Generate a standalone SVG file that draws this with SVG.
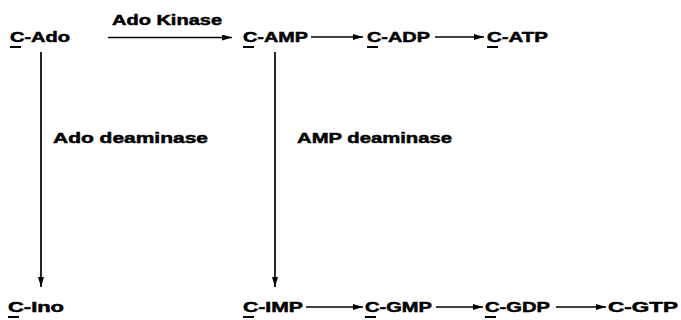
<svg xmlns="http://www.w3.org/2000/svg" width="681" height="320" viewBox="0 0 681 320">
<defs>
<style>
text{font-family:"Liberation Sans",Arial,sans-serif;font-weight:bold;font-size:15px;fill:#000;stroke:#000;stroke-width:0.5}
.u{fill:#000}
.c{stroke:#000;stroke-width:1.7;fill:none}
</style>
<marker id="ah" markerWidth="10" markerHeight="6" refX="10" refY="3" orient="auto" markerUnits="userSpaceOnUse">
<path d="M0,0 L10,3 L0,6 Z" fill="#000"/>
</marker>
</defs>
<rect width="681" height="320" fill="#fff"/>
<g id="connectors">
<line class="c" x1="108" y1="37.5" x2="232" y2="37.5" marker-end="url(#ah)"/>
<line class="c" x1="311" y1="37" x2="363" y2="37" marker-end="url(#ah)"/>
<line class="c" x1="435" y1="37" x2="484" y2="37" marker-end="url(#ah)"/>
<line class="c" x1="41" y1="52" x2="41" y2="287" marker-end="url(#ah)"/>
<line class="c" x1="275" y1="52" x2="275" y2="287" marker-end="url(#ah)"/>
<line class="c" x1="306" y1="307" x2="363" y2="307" marker-end="url(#ah)"/>
<line class="c" x1="436" y1="307" x2="483" y2="307" marker-end="url(#ah)"/>
<line class="c" x1="556" y1="307" x2="606" y2="307" marker-end="url(#ah)"/>
<text x="112" y="25" textLength="110" lengthAdjust="spacingAndGlyphs">Ado Kinase</text>
<text x="53" y="143" textLength="155" lengthAdjust="spacingAndGlyphs">Ado deaminase</text>
<text x="297" y="143" textLength="155" lengthAdjust="spacingAndGlyphs">AMP deaminase</text>
</g>
<g id="c-ado"><text x="10" y="42" textLength="60" lengthAdjust="spacingAndGlyphs">C-Ado</text><rect class="u" x="10" y="46" width="11" height="2"/></g>
<g id="c-amp"><text x="243" y="42" textLength="65" lengthAdjust="spacingAndGlyphs">C-AMP</text><rect class="u" x="243" y="46" width="11" height="2"/></g>
<g id="c-adp"><text x="367" y="42" textLength="63" lengthAdjust="spacingAndGlyphs">C-ADP</text><rect class="u" x="367" y="46" width="11" height="2"/></g>
<g id="c-atp"><text x="487" y="42" textLength="61" lengthAdjust="spacingAndGlyphs">C-ATP</text><rect class="u" x="487" y="46" width="11" height="2"/></g>
<g id="c-ino"><text x="8" y="312" textLength="56" lengthAdjust="spacingAndGlyphs">C-Ino</text><rect class="u" x="8" y="316" width="11" height="2"/></g>
<g id="c-imp"><text x="243" y="312" textLength="60" lengthAdjust="spacingAndGlyphs">C-IMP</text><rect class="u" x="243" y="316" width="11" height="2"/></g>
<g id="c-gmp"><text x="365" y="312" textLength="67" lengthAdjust="spacingAndGlyphs">C-GMP</text><rect class="u" x="365" y="316" width="11" height="2"/></g>
<g id="c-gdp"><text x="485" y="312" textLength="65" lengthAdjust="spacingAndGlyphs">C-GDP</text><rect class="u" x="485" y="316" width="11" height="2"/></g>
<g id="c-gtp"><text x="608" y="312" textLength="70" lengthAdjust="spacingAndGlyphs">C-GTP</text></g>
</svg>
